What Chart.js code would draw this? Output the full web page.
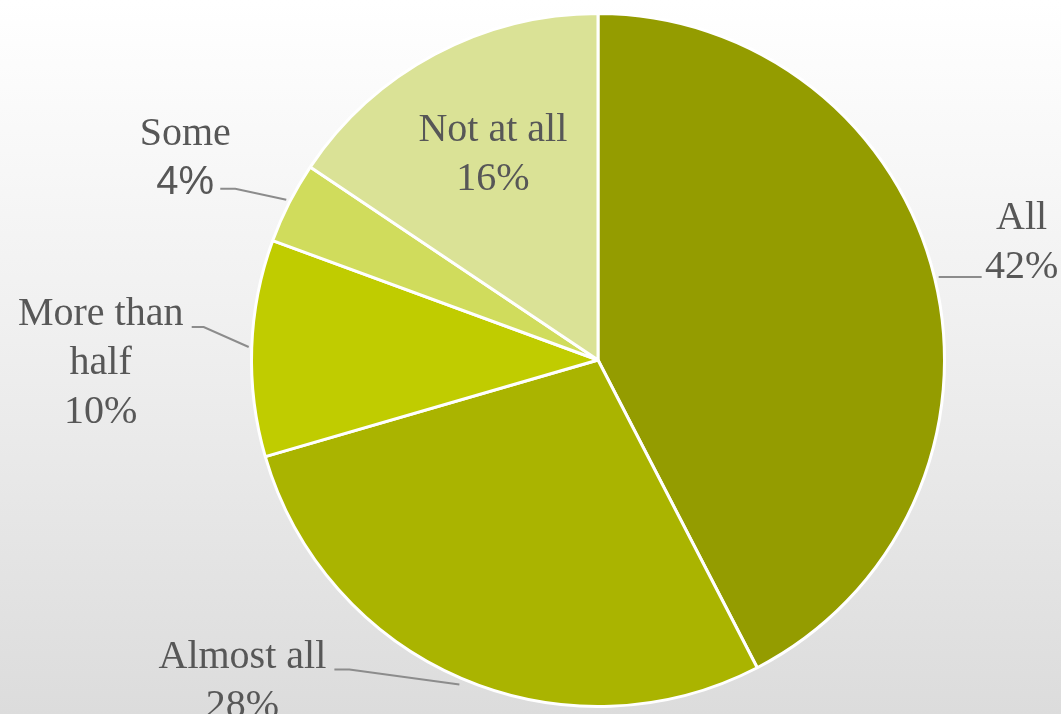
<!DOCTYPE html>
<html>
<head>
<meta charset="utf-8">
<script src="https://cdn.jsdelivr.net/npm/chart.js@4.4.1/dist/chart.umd.min.js"></script>
<style>
html,body{margin:0;padding:0;}
body{width:1061px;height:714px;overflow:hidden;background:linear-gradient(to bottom,#ffffff 0%,#f0f0f0 45%,#dcdcdc 100%);}
#wrap{width:1061px;height:714px;position:relative;}
</style>
</head>
<body>
<div id="wrap"><canvas id="pie"></canvas></div>
<script>
// data, clockwise from 12 o'clock (slice shares)
let categories = ["All","Almost all","More than half","Some","Not at all"];
let shares = [42.4,28.1,10.1,3.8,15.6];
let colors = ["#949c00","#aab400","#c0cc00","#d0dc5c","#dae296"];

// label text lines per slice
let labelLines = [["All"],["Almost all"],["More than","half"],["Some"],["Not at all"]];

// label layout relative to the slice's outer mid point
let labelLayout = [
    {tx:87, ty:-49, line:[[4,-1],[47,-1]]},
    {tx:-219, ty:-10, line:[[-2,6],[-112,-9],[-127,-9]]},
    {tx:-151, ty:-23, line:[[-3,-1],[-48,-21],[-60,-21]]},
    {tx:-104, ty:-58, sansPct:true, line:[[-3,-3],[-54,-14],[-69,-14]]},
    {tx:58, ty:87, line:null}
];

const labelPlugin = {
    id:"pieLabels",
    afterDatasetsDraw(chart){
        let ctx = chart.ctx;
        let meta = chart.getDatasetMeta(0);
        meta.data.forEach((arc,i)=>{
            let p = arc.getProps(["x","y","startAngle","endAngle","outerRadius"],true);
            let mid = (p.startAngle+p.endAngle)/2;
            let ex = p.x + Math.cos(mid)*p.outerRadius;
            let ey = p.y + Math.sin(mid)*p.outerRadius;
            let lay = labelLayout[i];

            ctx.save();
            if(lay.line){
                ctx.strokeStyle = "#8c8c8c";
                ctx.lineWidth = 2;
                ctx.beginPath();
                lay.line.forEach((pt,k)=>{
                    if(k===0) ctx.moveTo(ex+pt[0],ey+pt[1]);
                    else ctx.lineTo(ex+pt[0],ey+pt[1]);
                });
                ctx.stroke();
            }
            ctx.fillStyle = "#575757";
            ctx.textAlign = "center";
            ctx.textBaseline = "alphabetic";
            let lines = labelLines[i];
            let x = ex+lay.tx, y = ey+lay.ty;
            ctx.font = "40px 'Liberation Serif'";
            lines.forEach((t,k)=>{
                ctx.fillText(t,x,y+k*49);
            });
            let pct = Math.round(shares[i])+"%";
            if(lay.sansPct) ctx.font = "40px 'Liberation Sans'";
            ctx.fillText(pct,x,y+lines.length*49);
            ctx.restore();
        });
    }
};

new Chart(document.getElementById("pie"),{
    type:"pie",
    data:{
        labels:categories,
        datasets:[{
            data:shares,
            backgroundColor:colors,
            borderColor:"#ffffff",
            borderWidth:3,
            hoverOffset:0
        }]
    },
    options:{
        responsive:true,
        maintainAspectRatio:false,
        animation:false,
        layout:{padding:{left:250,right:115,top:12,bottom:6}},
        plugins:{legend:{display:false},tooltip:{enabled:false}}
    },
    plugins:[labelPlugin]
});
</script>
</body>
</html>
